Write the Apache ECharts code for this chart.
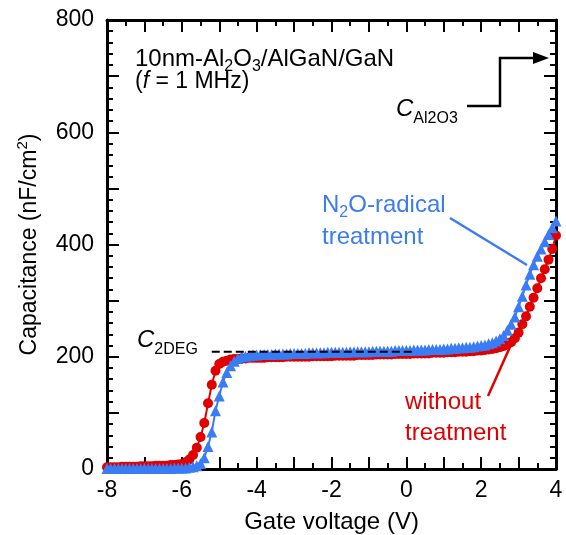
<!DOCTYPE html>
<html><head><meta charset="utf-8">
<script src="https://cdn.jsdelivr.net/npm/echarts@6/dist/echarts.min.js"></script>
<style>html,body{margin:0;padding:0;background:#fff}#c{width:566px;height:535px}</style>
</head><body><div id="c"></div>
<script>
// Gate voltage (V), 0.1 V steps
const voltage = [
 -8.0,-7.9,-7.8,-7.7,-7.6,-7.5,-7.4,-7.3,-7.2,-7.1,
 -7.0,-6.9,-6.8,-6.7,-6.6,-6.5,-6.4,-6.3,-6.2,-6.1,
 -6.0,-5.9,-5.8,-5.7,-5.6,-5.5,-5.4,-5.3,-5.2,-5.1,
 -5.0,-4.9,-4.8,-4.7,-4.6,-4.5,-4.4,-4.3,-4.2,-4.1,
 -4.0,-3.9,-3.8,-3.7,-3.6,-3.5,-3.4,-3.3,-3.2,-3.1,
 -3.0,-2.9,-2.8,-2.7,-2.6,-2.5,-2.4,-2.3,-2.2,-2.1,
 -2.0,-1.9,-1.8,-1.7,-1.6,-1.5,-1.4,-1.3,-1.2,-1.1,
 -1.0,-0.9,-0.8,-0.7,-0.6,-0.5,-0.4,-0.3,-0.2,-0.1,
  0.0, 0.1, 0.2, 0.3, 0.4, 0.5, 0.6, 0.7, 0.8, 0.9,
  1.0, 1.1, 1.2, 1.3, 1.4, 1.5, 1.6, 1.7, 1.8, 1.9,
  2.0, 2.1, 2.2, 2.3, 2.4, 2.5, 2.6, 2.7, 2.8, 2.9,
  3.0, 3.1, 3.2, 3.3, 3.4, 3.5, 3.6, 3.7, 3.8, 3.9,
  4.0
];
// Capacitance (nF/cm2), without treatment (red circles)
const withoutTreatment = [
 3,3,3,3,4,4,4,4,4,5,
 5,5,5,6,6,6,6,7,7,8,
 9,12,17,25,38,57,82,117,150,175,
 187,191,193,195,196,196,197,197,198,198,
 198,198,198,199,199,199,199,199,200,200,
 200,200,200,200,200,201,201,201,201,201,
 201,202,202,202,202,202,202,203,203,203,
 203,203,204,204,204,204,204,205,205,205,
 205,205,206,206,206,206,206,207,207,207,
 207,208,208,208,209,209,209,210,210,211,
 211,212,213,214,215,217,219,222,226,233,
 243,258,272,289,305,322,340,356,373,392,
 416
];
// Capacitance (nF/cm2), N2O-radical treatment (blue triangles)
const n2oRadical = [
 1,1,1,1,1,1,1,1,1,1,
 1,1,1,1,1,1,1,1,2,2,
 2,2,3,4,6,10,20,40,66,104,
 130,155,172,184,192,197,200,201,202,203,
 203,204,204,204,204,205,205,205,205,206,
 206,206,206,206,207,207,207,207,207,208,
 208,208,208,208,208,209,209,209,209,209,
 209,210,210,210,210,210,210,211,211,211,
 211,211,212,212,212,212,213,213,213,213,
 214,214,215,215,216,216,217,217,218,219,
 220,221,223,225,228,232,238,247,258,271,
 289,308,328,347,364,379,392,405,418,430,
 442
];
const xTickLabels = ['-8','-6','-4','-2','0','2','4'];
const yTickLabels = ['0','200','400','600','800'];
const c2degLevel = [[-5.2, 209], [0.25, 209]];

const FONT = 'Liberation Sans, Arial, Helvetica, sans-serif';
const RED = '#e10000';
const BLUE = '#3a7cf4';
const chart = echarts.init(document.getElementById('c'), null, {renderer: 'canvas'});

function zip(xs, ys) { return xs.map((x, i) => [x, ys[i]]); }

const axisCommon = {
  axisLine: {show: true, onZero: false, lineStyle: {color: '#000', width: 3}},
  axisTick: {show: true, inside: true, length: 12, lineStyle: {color: '#000', width: 2}},
  minorTick: {show: true, length: 6, lineStyle: {color: '#000', width: 2}},
  splitLine: {show: false}
};

function rt(x, y, text, fill, rich) {
  return {type: 'text', x: x, y: y, z: 100, style: {
    text: text, fill: fill, align: 'left', verticalAlign: 'top',
    font: '24px ' + FONT, lineHeight: 30, rich: rich }};
}
function richSet(fill, size) {
  const F = size || 24;
  return {
    m: {fontSize: F, fontFamily: FONT, lineHeight: 30, verticalAlign: 'middle', color: fill},
    i: {fontSize: F, fontFamily: FONT, fontStyle: 'italic', lineHeight: 30, verticalAlign: 'middle', color: fill},
    s: {fontSize: Math.round(F * 0.65), fontFamily: FONT, lineHeight: 30, verticalAlign: 'top', padding: [15, 0, 0, 0], color: fill},
    c: {fontSize: 24, fontFamily: FONT, fontStyle: 'italic', lineHeight: 30, verticalAlign: 'middle', color: fill},
    cs: {fontSize: 16, fontFamily: FONT, lineHeight: 30, verticalAlign: 'top', padding: [17, 0, 0, 0], color: fill}
  };
}

const option = {
  animation: false,
  backgroundColor: '#fff',
  textStyle: {fontFamily: FONT},
  grid: {left: 107, right: 10, top: 20, bottom: 66, containLabel: false, outerBoundsMode: 'none'},
  xAxis: [
    Object.assign({}, axisCommon, {
      type: 'value', min: -8, max: 4, interval: 1, position: 'bottom',
      minorTick: Object.assign({}, axisCommon.minorTick, {splitNumber: 2}),
      axisLabel: {show: true, margin: 10, fontSize: 23, color: '#000', fontFamily: FONT,
        formatter: v => xTickLabels.indexOf(String(v)) >= 0 ? String(v) : ''},
      name: 'Gate voltage (V)', nameLocation: 'middle', nameGap: 35,
      nameTextStyle: {fontSize: 24, color: '#000', fontFamily: FONT, lineHeight: 30}
    }),
    Object.assign({}, axisCommon, {
      type: 'value', min: -8, max: 4, interval: 1, position: 'top',
      minorTick: Object.assign({}, axisCommon.minorTick, {splitNumber: 2}),
      axisLabel: {show: false}
    })
  ],
  yAxis: [
    Object.assign({}, axisCommon, {
      type: 'value', min: 0, max: 800, interval: 100, position: 'left',
      minorTick: Object.assign({}, axisCommon.minorTick, {splitNumber: 5}),
      axisLabel: {show: true, margin: 13, fontSize: 23, color: '#000', fontFamily: FONT,
        formatter: v => yTickLabels.indexOf(String(v)) >= 0 ? String(v) : ''},
      name: 'Capacitance (nF/cm{sup|2})', nameLocation: 'middle', nameGap: 50,
      nameTextStyle: {fontSize: 23, color: '#000', fontFamily: FONT, lineHeight: 30,
        rich: {sup: {fontSize: 15, fontFamily: FONT, color: '#000', lineHeight: 30, verticalAlign: 'top', padding: [1, 0, 0, 0]}}}
    }),
    Object.assign({}, axisCommon, {
      type: 'value', min: 0, max: 800, interval: 100, position: 'right',
      minorTick: Object.assign({}, axisCommon.minorTick, {splitNumber: 5}),
      axisLabel: {show: false}
    })
  ],
  series: [
    {
      name: 'without treatment', type: 'line', xAxisIndex: 0, yAxisIndex: 0,
      data: zip(voltage, withoutTreatment), clip: false,
      symbol: 'circle', symbolSize: 10, showAllSymbol: true,
      itemStyle: {color: RED}, lineStyle: {color: RED, width: 2}, z: 3
    },
    {
      name: 'N2O-radical treatment', type: 'line', xAxisIndex: 0, yAxisIndex: 0,
      data: zip(voltage, n2oRadical), clip: false,
      symbol: 'triangle', symbolSize: 11, showAllSymbol: true,
      itemStyle: {color: BLUE}, lineStyle: {color: BLUE, width: 2}, z: 4
    },
    {
      name: 'C2DEG', type: 'line', data: c2degLevel, symbol: 'none', silent: true,
      lineStyle: {color: '#000', width: 2, type: [8, 4]}, z: 5
    }
  ],
  graphic: [
    rt(135, 44, '{m|10nm-Al}{s|2}{m|O}{s|3}{m|/AlGaN/GaN}', '#000', richSet('#000', 24)),
    rt(135, 67, '{m|(}{i|f}{m| = 1 MHz)}', '#000', richSet('#000', 23)),
    rt(396, 94, '{c|C}{cs|Al2O3}', '#000', richSet('#000')),
    rt(137, 325, '{c|C}{cs|2DEG}', '#000', richSet('#000')),
    rt(322, 190, '{m|N}{s|2}{m|O-radical}', BLUE, richSet(BLUE)),
    rt(322, 222, '{m|treatment}', BLUE, richSet(BLUE)),
    rt(405, 387, '{m|without}', RED, richSet(RED)),
    rt(405, 418, '{m|treatment}', RED, richSet(RED)),
    {type: 'polyline', z: 100, shape: {points: [[467, 106], [500, 106], [500, 58], [536, 58]]},
      style: {stroke: '#000', lineWidth: 2.5, fill: null}},
    {type: 'polygon', z: 100, shape: {points: [[533, 52], [549, 58], [533, 64]]},
      style: {fill: '#000', stroke: null}},
    {type: 'line', z: 100, shape: {x1: 450, y1: 218, x2: 527, y2: 265},
      style: {stroke: BLUE, lineWidth: 2.5}},
    {type: 'line', z: 100, shape: {x1: 488, y1: 396, x2: 514, y2: 338},
      style: {stroke: RED, lineWidth: 2.5}}
  ]
};
chart.setOption(option);
</script>
</body></html>
